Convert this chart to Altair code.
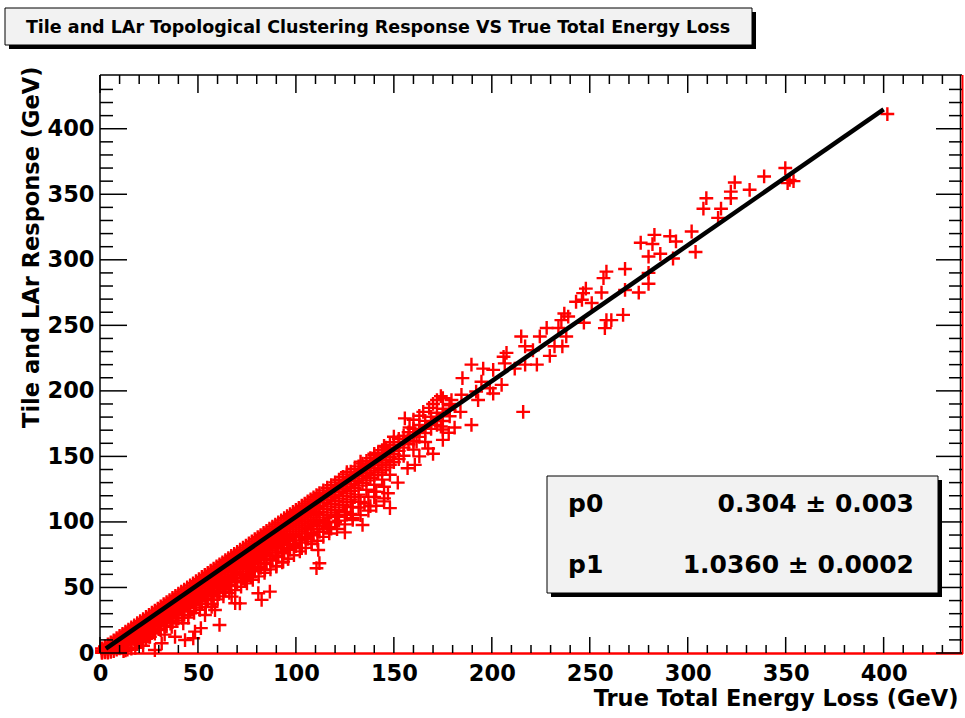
import altair as alt
import pandas as pd

# ---------------- texts / fit results ----------------
chart_title = "Tile and LAr Topological Clustering Response VS True Total Energy Loss"
x_title = "True Total Energy Loss (GeV)"
y_title = "Tile and LAr Response (GeV)"
p0, p0_err = 0.304, 0.003
p1, p1_err = 1.0360, 0.0002
fit_range = [3, 400]

major_ticks = [0, 50, 100, 150, 200, 250, 300, 350, 400]
minor_ticks = [10, 20, 30, 40, 60, 70, 80, 90, 110, 120, 130, 140, 160, 170, 180, 190,
               210, 220, 230, 240, 260, 270, 280, 290, 310, 320, 330, 340, 360, 370,
               380, 390, 410, 420, 430]

# ---------------- data: dense band (x, [y values]) ----------------
band_low = [
    (1, [3.5, 2.0, 0.8, 0.2]),
    (2.5, [5.0, 3.2, 1.5, 0.4]),
    (4, [6.5, 4.6, 3.0, 1.2, 0.3]),
    (5.5, [8.0, 6.2, 4.5, 2.5, 0.8]),
    (7, [9.6, 7.8, 6.0, 3.8, 1.5]),
    (8.5, [11.3, 9.3, 7.5, 5.2, 2.6]),
    (10, [13.0, 10.9, 8.8, 6.3, 3.5]),
    (11.5, [14.6, 12.5, 10.3, 7.6, 4.4]),
    (13, [16.3, 14.0, 11.8, 9.0, 5.6, 2.1]),
    (14.5, [17.9, 15.6, 13.2, 10.6, 7.1]),
    (16, [19.5, 17.1, 14.8, 12.0, 8.5, 3.4]),
    (17.5, [21.0, 18.7, 16.3, 13.6, 10.2]),
    (19, [22.7, 20.3, 17.8, 15.0, 11.5, 6.8]),
    (20.5, [24.3, 21.8, 19.4, 16.5, 12.9]),
    (22, [25.9, 23.4, 20.9, 18.0, 14.2, 8.4]),
    (23.5, [27.5, 25.0, 22.4, 19.3, 15.8, 10.9]),
    (25, [29.1, 26.5, 23.9, 20.8, 17.2, 12.5]),
    (26.5, [30.7, 28.1, 25.4, 22.3, 18.7]),
    (28, [32.3, 29.6, 27.0, 23.8, 20.1, 14.8]),
    (29.5, [33.9, 31.2, 28.5, 25.3, 21.6]),
    (31, [35.6, 32.8, 30.0, 26.8, 23.0, 17.5]),
    (32.5, [37.2, 34.3, 31.6, 28.3, 24.6]),
    (34, [38.8, 35.9, 33.1, 29.7, 26.0, 20.3]),
    (35.5, [40.4, 37.5, 34.6, 31.3, 27.4]),
    (37, [42.0, 39.0, 36.2, 32.8, 28.9, 23.6]),
    (38.5, [43.6, 40.6, 37.7, 34.3, 30.3]),
    (40, [45.2, 42.1, 39.2, 35.8, 31.8, 26.4]),
    (41.5, [46.8, 43.7, 40.8, 37.3, 33.2]),
    (43, [48.4, 45.2, 42.3, 38.8, 34.7, 29.1]),
    (44.5, [50.0, 46.8, 43.8, 40.3, 36.1]),
    (46, [51.6, 48.3, 45.4, 41.8, 37.6, 31.9]),
    (47.5, [53.2, 49.9, 46.9, 43.3, 39.0]),
    (49, [54.8, 51.4, 48.4, 44.8, 40.5, 34.7]),
    (50.5, [56.4, 53.0, 49.9, 46.3, 41.9]),
    (52, [58.0, 54.5, 51.5, 47.8, 43.4, 37.5]),
    (53.5, [59.6, 56.1, 53.0, 49.3, 44.8]),
    (55, [61.2, 57.6, 54.5, 50.8, 46.3, 40.2]),
    (56.5, [62.8, 59.2, 56.0, 52.3, 47.7]),
    (58, [64.4, 60.7, 57.6, 53.8, 49.2, 43.0]),
    (59.5, [66.0, 62.3, 59.1, 55.3, 50.6]),
]
band_mid = [
    (61, [67.6, 63.8, 60.6, 56.8, 52.1, 45.7]),
    (62.5, [69.2, 65.4, 62.1, 58.3, 53.5]),
    (64, [70.8, 66.9, 63.7, 59.8, 55.0, 48.5]),
    (65.5, [72.4, 68.5, 65.2, 61.3, 56.4]),
    (67, [74.0, 70.0, 66.7, 62.8, 57.9, 51.2]),
    (68.5, [75.6, 71.6, 68.3, 64.3, 59.3]),
    (70, [77.2, 73.1, 69.8, 65.8, 60.8, 54.0]),
    (71.5, [78.8, 74.7, 71.3, 67.3, 62.2]),
    (73, [80.4, 76.2, 72.9, 68.8, 63.7, 56.8]),
    (74.5, [82.0, 77.8, 74.4, 70.3, 65.1]),
    (76, [83.6, 79.3, 75.9, 71.8, 66.6, 59.5]),
    (77.5, [85.2, 80.9, 77.4, 73.3, 68.0]),
    (79, [86.8, 82.4, 79.0, 74.8, 69.5, 62.3]),
    (80.5, [88.4, 84.0, 80.5, 76.3, 70.9]),
    (82, [90.0, 85.6, 82.0, 77.8, 72.4, 65.0]),
    (83.5, [91.6, 87.1, 83.6, 79.3, 73.8]),
    (85, [93.2, 88.7, 85.1, 80.8, 75.3, 67.8]),
    (86.5, [94.8, 90.2, 86.6, 82.3, 76.7]),
    (88, [96.4, 91.8, 88.1, 83.8, 78.2, 70.5]),
    (89.5, [98.0, 93.3, 89.7, 85.3, 79.6]),
    (91, [99.6, 94.9, 91.2, 86.8, 81.1, 73.3]),
    (92.5, [101.2, 96.4, 92.7, 88.3, 82.5]),
    (94, [102.8, 98.0, 94.3, 89.8, 84.0, 76.0]),
    (95.5, [104.4, 99.5, 95.8, 91.3, 85.4]),
    (97, [106.0, 101.1, 97.3, 92.8, 86.9, 78.8]),
    (98.5, [107.6, 102.6, 98.9, 94.3, 88.3]),
    (100, [109.2, 104.2, 100.4, 95.8, 89.8, 81.5]),
    (101.5, [110.8, 105.8, 101.9, 97.3, 91.2]),
    (103, [112.4, 107.3, 103.5, 98.8, 92.7, 84.3]),
    (104.5, [114.0, 108.9, 105.0, 100.3, 94.1]),
    (106, [115.6, 110.4, 106.5, 101.8, 95.6, 87.0]),
    (107.5, [117.2, 112.0, 108.0, 103.3, 97.0]),
    (109, [118.8, 113.5, 109.6, 104.8, 98.5, 89.8]),
    (110.5, [120.4, 115.1, 111.1, 106.3, 99.9]),
    (112, [122.0, 116.6, 112.6, 107.8, 101.4, 92.5]),
    (114, [124.0, 118.7, 114.7, 109.8, 103.3]),
    (116, [126.1, 120.8, 116.7, 111.8, 105.3, 96.0]),
    (118, [128.1, 122.8, 118.8, 113.8, 107.2]),
]
band_high = [
    (120, [130.2, 124.9, 120.8, 115.8, 109.2, 99.8]),
    (122, [132.2, 127.0, 122.9, 117.8, 111.1]),
    (124, [134.3, 129.1, 124.9, 119.8, 113.0]),
    (126, [136.3, 131.1, 127.0, 121.8, 115.0, 105.5]),
    (128, [138.4, 133.2, 129.0, 123.8, 117.0]),
    (130, [140.4, 135.3, 131.1, 125.8, 118.9]),
    (132, [142.4, 137.3, 133.1, 127.7, 120.8, 111.0]),
    (134, [144.5, 139.4, 135.2, 129.7]),
    (136, [146.5, 141.5, 137.2, 131.7, 124.6]),
    (138, [148.6, 143.6, 139.3, 133.7]),
    (140, [150.6, 145.6, 141.3, 135.7, 128.4, 119.0]),
    (142, [152.6, 147.7, 143.4, 137.7]),
    (144, [154.7, 149.8, 145.4, 139.6, 132.3]),
    (146, [156.7, 151.9, 147.5, 141.6]),
    (148, [158.8, 153.9, 149.5, 143.6, 136.0]),
    (150, [160.8, 156.0, 151.6, 145.6]),
    (152.5, [163.3, 158.6, 154.2, 148.0]),
    (155, [165.8, 161.2, 156.7, 150.5]),
    (157.5, [168.4, 163.8, 159.3]),
    (160, [171.0, 166.4, 161.8, 155.2]),
    (163, [174.0, 169.5, 164.9]),
    (166, [177.1, 172.6, 167.9, 161.0]),
    (169, [180.2, 175.7, 171.0]),
    (172, [183.3, 178.8, 174.0]),
    (175, [186.4, 181.9, 177.0, 170.5]),
    (178.5, [190.0, 185.5, 180.6]),
]
# lower edge of the band (points falling short of the response line)
band_lower = [
    (21, [15.5, 12.0]), (24, [17.8, 14.1]), (27, [20.4, 16.0]), (30, [22.5, 18.3]),
    (33, [24.9, 20.6]), (36, [27.2, 22.4]), (39, [29.8, 24.7]), (42, [32.0, 26.9]),
    (45, [34.3, 28.8]), (48, [36.7, 30.6]), (51, [39.2, 33.0]), (54, [41.5, 35.1]),
    (57, [44.3, 37.6]), (60, [46.8, 40.9]), (63, [49.4, 43.2]), (66, [52.1, 45.8]),
    (69, [54.9, 48.0]), (72, [57.5, 50.6]), (75, [60.4, 53.1]), (78, [63.2, 55.9]),
    (81, [66.0, 58.5]), (84, [68.8, 61.2]), (87, [71.6, 63.8]), (90, [74.5, 66.4]),
    (93, [77.3, 69.1]), (96, [80.2, 71.9]), (99, [83.0, 74.6]), (102, [85.9, 77.5]),
    (105, [88.7, 80.2]), (108, [91.6, 83.1]), (111, [94.4, 85.7]), (114, [97.3, 88.6]),
    (117, [100.1, 91.2]), (121, [103.9, 94.6]), (125, [107.6, 98.1]), (129, [111.4, 101.5]),
    (133, [115.3, 105.2]), (137, [119.1, 108.6]), (141, [122.9, 112.3]), (145, [126.8, 115.7]),
]

# ---------------- sparse points below the band ----------------
below_x = [43.4, 48.5, 47.6, 38.3, 36.6, 42.5, 25.5, 31.5, 28, 61, 53.6, 57, 67.2, 69,
           82.5, 80.8, 86.7, 90, 93.5, 84.2, 79, 51.5, 58.7, 57.8, 71.4, 99, 108, 111.4,
           110.5, 112, 18, 14, 22, 33, 20, 12, 45, 63, 66, 74, 77, 96, 103, 105, 118,
           115, 122, 125, 128, 135, 138, 140, 145, 147, 148, 129, 134, 152, 157, 160.7,
           163, 167.5, 170, 175, 178, 181, 161.6]
below_y = [9.9, 16.3, 11.2, 12.4, 20, 22.7, 12.4, 7.4, 2.3, 21.4, 29, 35.3, 43, 38,
           40.5, 45.6, 46.8, 65.9, 69.7, 63.4, 64.7, 19, 32.8, 40.5, 37.9, 80, 85, 78.6,
           64.7, 68.5, 4, 2.5, 5.5, 14, 9, 1.5, 27, 47, 51, 55, 58, 72, 80, 88, 95,
           99, 101, 92, 106, 114, 112, 123, 118, 121.9, 110.5, 102.8, 97.7, 130, 141, 143.5,
           150, 156, 152, 162.6, 168, 172, 161.3]

# ---------------- sparse points above the band ----------------
above_x = [165, 155.6, 174, 170, 168, 172, 160, 163, 158, 150, 145, 140, 133, 126]
above_y = [184, 179, 196, 190, 187, 193, 178, 181, 172, 165, 158, 152, 146, 138]

# ---------------- isolated high-energy points ----------------
high_x = [401.9, 349.8, 352, 354, 351, 339, 331.6, 324, 322, 322, 309.5, 308, 317, 315.5,
          302, 304, 291, 294, 283, 276, 282, 286, 280, 292.5, 268, 258.5, 257, 280, 280,
          275, 268, 256, 248, 246.6, 243, 251, 246, 267, 258.5, 257.7, 261, 247, 239,
          235.5, 237, 234, 238, 236, 232, 229.6, 228, 224.5, 215, 217, 221, 223, 217,
          207.5, 206, 206.6, 211.7, 189.6, 195.6, 200.7, 185, 194.7, 199, 205, 200.7,
          192, 184.5, 179.4, 175, 193, 178.6, 184, 216, 189.6, 174]
high_y = [411.2, 370, 361, 360, 358.5, 363.6, 353.4, 359, 352, 347, 347, 339, 339, 332,
          321.6, 306, 318, 314, 319, 313, 312, 304.6, 302.5, 301, 293, 291, 286, 290, 281.7,
          275, 277, 275, 278, 274.6, 268, 267, 269.5, 258, 254, 247.9, 254, 252, 256.7,
          254, 259, 248, 241.5, 234, 234, 226.7, 248, 241.5, 241.5, 234, 231, 220, 220,
          229, 226, 221, 217, 220, 217, 216, 209.7, 207, 202, 204.6, 198,
          199.5, 197, 193, 194.4, 193, 189, 184, 184, 174, 172.8]

# ---------------- build tables ----------------
rows = []
for grp in (band_low, band_mid, band_high, band_lower):
    for xv, yl in grp:
        for yv in yl:
            rows.append({"x": xv, "y": yv})
for xl, yl in ((below_x, below_y), (above_x, above_y), (high_x, high_y)):
    for xv, yv in zip(xl, yl):
        rows.append({"x": xv, "y": yv})
df_pts = pd.DataFrame(rows)
df_fit = pd.DataFrame({"x": fit_range, "y": [p0 + p1 * v for v in fit_range]})
df_major = pd.DataFrame({"x": major_ticks, "y": major_ticks})
df_minor = pd.DataFrame({"x": minor_ticks, "y": minor_ticks})
one = alt.Data(values=[{}])

# ---------------- chart ----------------
W, H = 862, 578
FONT = "DejaVu Sans"
FS = 22.5
xs = alt.Scale(domain=[0, 440], nice=False, zero=False)
ys = alt.Scale(domain=[0, 441], nice=False, zero=False)
CROSS = "M-1,0L1,0M0,-1L0,1"

x_axis = alt.Axis(values=major_ticks, tickSize=0, domain=False, grid=False,
                  labelFont=FONT, labelFontSize=FS, labelFontWeight="bold", labelColor="black",
                  labelPadding=9, labelFlush=False, labelOverlap=False,
                  title=x_title, titleFont=FONT, titleFontSize=FS, titleFontWeight="bold",
                  titleColor="black", titleX=858, titleY=52, titleAlign="right",
                  titleBaseline="alphabetic")
y_axis = alt.Axis(values=major_ticks, tickSize=0, domain=False, grid=False,
                  labelFont=FONT, labelFontSize=FS, labelFontWeight="bold", labelColor="black",
                  labelPadding=6, labelFlush=False, labelOverlap=False,
                  title=y_title, titleFont=FONT, titleFontSize=FS, titleFontWeight="bold",
                  titleColor="black", titleAngle=270, titleX=-62, titleY=-9,
                  titleAlign="right", titleBaseline="alphabetic")

X = alt.X("x:Q", scale=xs, axis=x_axis)
Y = alt.Y("y:Q", scale=ys, axis=y_axis)

points = alt.Chart(df_pts).mark_point(
    shape=CROSS, filled=False, size=190, strokeWidth=2.4, color="#ff0000", opacity=1
).encode(x=X, y=Y)

fit = alt.Chart(df_fit).mark_line(color="black", strokeWidth=4.5).encode(x=X, y=Y)


def hrule(y, x1, x2, color="black", w=1.5):
    return alt.Chart(one).mark_rule(color=color, strokeWidth=w).encode(
        x=alt.value(x1), x2=alt.value(x2), y=alt.value(y))


def vrule(x, y1, y2, color="black", w=1.5):
    return alt.Chart(one).mark_rule(color=color, strokeWidth=w).encode(
        x=alt.value(x), y=alt.value(y1), y2=alt.value(y2))


frame = [
    hrule(0, 0, W), vrule(0, 0, H), vrule(W - 1.5, 0, H),
    hrule(H + 0.5, 0, W + 1, color="#ff0000", w=2.5),
    vrule(W + 0.5, 0, H + 1, color="#ff0000", w=2),
]


def yticks(df, x1, x2):
    return alt.Chart(df).mark_rule(color="black", strokeWidth=1.5).encode(
        y=Y, x=alt.value(x1), x2=alt.value(x2))


def xticks(df, y1, y2):
    return alt.Chart(df).mark_rule(color="black", strokeWidth=1.5).encode(
        x=X, y=alt.value(y1), y2=alt.value(y2))


ticks = [
    yticks(df_major, 0, 27), yticks(df_minor, 0, 13),
    yticks(df_major, W - 26, W), yticks(df_minor, W - 13, W),
    xticks(df_major, H, H - 16), xticks(df_minor, H, H - 8),
    xticks(df_major, 0, 18), xticks(df_minor, 0, 9),
]


def box(x1, x2, y1, y2, fill, stroke=None):
    kw = dict(fill=fill)
    if stroke:
        kw.update(stroke=stroke, strokeWidth=1)
    return alt.Chart(one).mark_rect(**kw).encode(
        x=alt.value(x1), x2=alt.value(x2), y=alt.value(y1), y2=alt.value(y2))


def label(txt, x, y, size, align="left"):
    return alt.Chart(one).mark_text(font=FONT, fontSize=size, fontWeight="bold",
                                    color="black", align=align, baseline="alphabetic").encode(
        x=alt.value(x), y=alt.value(y), text=alt.value(txt))


stats = [
    box(451, 842, 405, 522, "black"),
    box(447, 838, 401, 518, "#f2f2f2", "black"),
    label("p0", 468, 437, 25),
    label(f"{p0:.3f} \u00b1 {p0_err:.3f}", 814, 437, 25, "right"),
    label("p1", 468, 498, 25),
    label(f"{p1:.4f} \u00b1 {p1_err:.4f}", 814, 498, 25, "right"),
]

title = [
    box(-91, 656, -63, -26, "black"),
    box(-95, 652, -67, -30, "#f2f2f2", "black"),
    label(chart_title, 278, -42, 17.5, "center"),
]

chart = alt.layer(points, fit, *frame, *ticks, *stats, *title).properties(
    width=W, height=H,
    autosize=alt.AutoSizeParams(type="none"),
    padding={"left": 100, "top": 75, "right": 3, "bottom": 65},
    background="white",
).configure_view(strokeWidth=0)

chart.save("out.html", embed_options={"renderer": "svg", "actions": False})
